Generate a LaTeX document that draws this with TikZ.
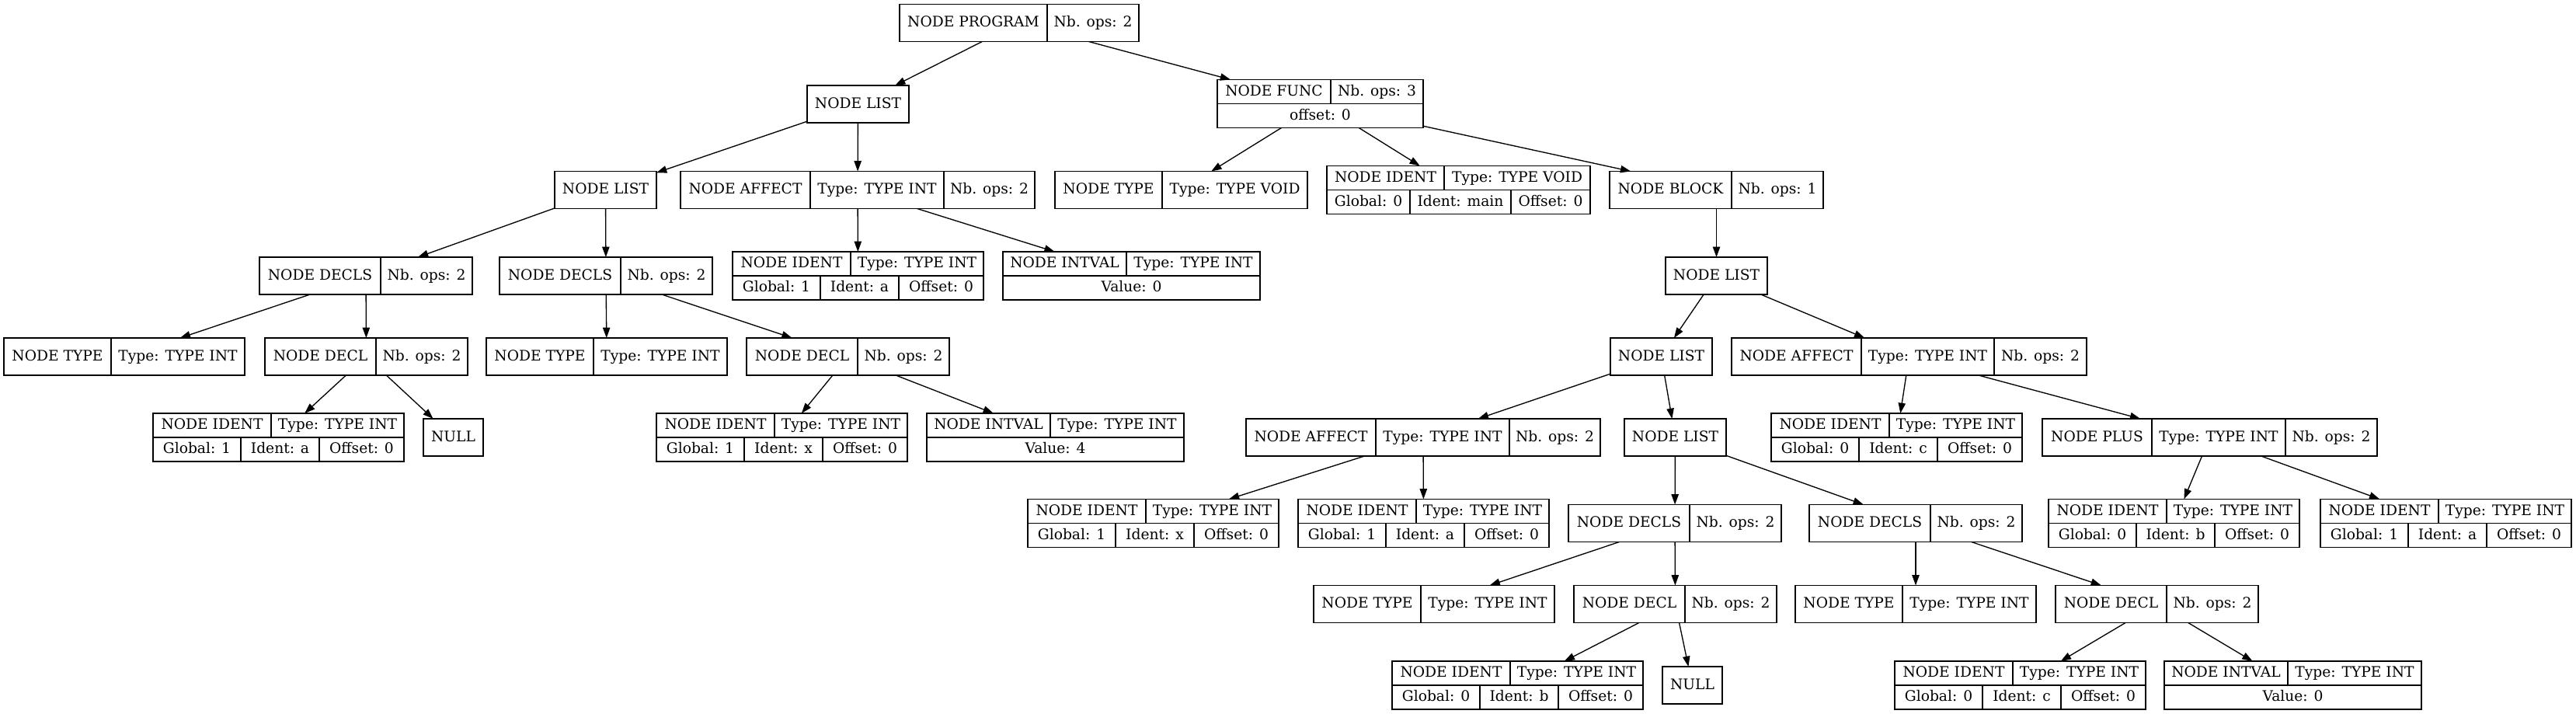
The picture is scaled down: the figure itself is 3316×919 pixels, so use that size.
\documentclass[tikz,border=0pt]{standalone}
\usepackage{fontspec}
\setmainfont{DejaVu Serif}
\usepackage{tikz}
\usetikzlibrary{arrows.meta}

% invisible frame of a record, used as the end of the edges
\newcommand{\recname}[5]{%
    \node[recshape, minimum width={((#3)-(#2))*0.75pt}, minimum height={2*(#5)*0.75pt}] (#1) at ({((#2)+(#3))/2}, #4) {};%
}
% one field of a record
\newcommand{\cellbox}[5]{%
    \draw[recline] (#1, #3) rectangle (#2, #4);%
    \node[rectext] at ({((#1)+(#2))/2}, {((#3)+(#4))/2}) {#5};%
}
\newcommand{\recA}[5]{%
    \recname{#1}{#2}{#3}{#4}{24}%
    \cellbox{#2}{#3}{#4-24}{#4+24}{#5}%
}
\newcommand{\recB}[7]{%
    \recname{#1}{#2}{#4}{#5}{24}%
    \cellbox{#2}{#3}{#5-24}{#5+24}{#6}%
    \cellbox{#3}{#4}{#5-24}{#5+24}{#7}%
}
\newcommand{\recC}[9]{%
    \recname{#1}{#2}{#5}{#6}{24}%
    \cellbox{#2}{#3}{#6-24}{#6+24}{#7}%
    \cellbox{#3}{#4}{#6-24}{#6+24}{#8}%
    \cellbox{#4}{#5}{#6-24}{#6+24}{#9}%
}
\newcommand{\recV}[8]{%
    \recname{#1}{#2}{#4}{#5}{31}%
    \cellbox{#2}{#3}{#5-31}{#5}{#6}%
    \cellbox{#3}{#4}{#5-31}{#5}{#7}%
    \cellbox{#2}{#4}{#5}{#5+31}{#8}%
}
\newcommand{\recI}[5]{%
    \recname{#1}{#2}{#2+323}{#3}{31}%
    \cellbox{#2}{#2+152}{#3-31}{#3}{NODE IDENT}%
    \cellbox{#2+152}{#2+323}{#3-31}{#3}{Type: TYPE INT}%
    \cellbox{#2}{#2+113}{#3}{#3+31}{Global: #4}%
    \cellbox{#2+113}{#2+214}{#3}{#3+31}{Ident: #5}%
    \cellbox{#2+214}{#2+323}{#3}{#3+31}{Offset: 0}%
}

\begin{document}
\begin{tikzpicture}[x=0.75pt, y=-0.75pt, >={Triangle[length=10pt, width=7pt]},
    recline/.style={line width=1pt},
    rectext/.style={inner sep=0pt, font=\fontsize{14}{16}\selectfont, text height=10.5pt, text depth=2.5pt},
    recshape/.style={rectangle, inner sep=0pt, outer sep=0pt},
    edge/.style={->, line width=1pt}]
    %\draw[step=100, gray, very thin] (0, 0) grid (3316, 919);
    \useasboundingbox (0, 0) rectangle (3316, 919);

    \recB{prog}{1158}{1348}{1466}{29.5}{NODE PROGRAM}{Nb. ops: 2}

    \recA{list1}{1039}{1170}{134}{NODE LIST}
    \recV{func}{1567}{1713}{1832}{133.5}{NODE FUNC}{Nb. ops: 3}{offset: 0}

    \recA{list2}{714}{845}{244.5}{NODE LIST}
    \recC{affect1}{876}{1043}{1215}{1332}{244.5}{NODE AFFECT}{Type: TYPE INT}{Nb. ops: 2}
    \recB{typeVoid}{1358}{1496}{1683}{244.5}{NODE TYPE}{Type: TYPE VOID}
    \recname{identMain}{1708}{2047}{244.5}{31}
    \cellbox{1708}{1859}{213.5}{244.5}{NODE IDENT}
    \cellbox{1859}{2047}{213.5}{244.5}{Type: TYPE VOID}
    \cellbox{1708}{1815}{244.5}{275.5}{Global: 0}
    \cellbox{1815}{1945}{244.5}{275.5}{Ident: main}
    \cellbox{1945}{2047}{244.5}{275.5}{Offset: 0}
    \recB{block}{2072}{2229}{2347}{244.5}{NODE BLOCK}{Nb. ops: 1}

    \recB{decls1}{334}{490}{608}{355}{NODE DECLS}{Nb. ops: 2}
    \recB{decls2}{643}{799}{917}{355}{NODE DECLS}{Nb. ops: 2}
    \recI{ident1}{943}{355}{1}{a}
    \recV{intval1}{1291}{1450}{1622}{355}{NODE INTVAL}{Type: TYPE INT}{Value: 0}
    \recA{list3}{2144}{2275}{355}{NODE LIST}

    \recB{type1}{5}{143}{315}{459}{NODE TYPE}{Type: TYPE INT}
    \recB{decl1}{341}{484}{602}{459}{NODE DECL}{Nb. ops: 2}
    \recB{type2}{626}{764}{936}{459}{NODE TYPE}{Type: TYPE INT}
    \recB{decl2}{961}{1104}{1222}{459}{NODE DECL}{Nb. ops: 2}
    \recA{list4}{2073}{2204}{459}{NODE LIST}
    \recC{affect3}{2229}{2396}{2567}{2686}{459}{NODE AFFECT}{Type: TYPE INT}{Nb. ops: 2}

    \recI{ident2}{197}{563}{1}{a}
    \recA{null1}{545}{622}{563}{NULL}
    \recI{ident3}{845}{563}{1}{x}
    \recV{intval2}{1193}{1352}{1524}{563}{NODE INTVAL}{Type: TYPE INT}{Value: 4}
    \recC{affect2}{1604}{1771}{1943}{2060}{563}{NODE AFFECT}{Type: TYPE INT}{Nb. ops: 2}
    \recA{list5}{2091}{2222}{563}{NODE LIST}
    \recI{ident4}{2280}{563}{0}{c}
    \recC{plus}{2629}{2770}{2942}{3060}{563}{NODE PLUS}{Type: TYPE INT}{Nb. ops: 2}

    \recI{ident5}{1323}{673.5}{1}{x}
    \recI{ident6}{1671}{673.5}{1}{a}
    \recB{decls3}{2019}{2175}{2293}{673.5}{NODE DECLS}{Nb. ops: 2}
    \recB{decls4}{2329}{2485}{2603}{673.5}{NODE DECLS}{Nb. ops: 2}
    \recI{ident7}{2637}{673.5}{0}{b}
    \recI{ident8}{2987}{673.5}{1}{a}

    \recB{type3}{1691}{1829}{2001}{777.5}{NODE TYPE}{Type: TYPE INT}
    \recB{decl3}{2026}{2169}{2287}{777.5}{NODE DECL}{Nb. ops: 2}
    \recB{type4}{2311}{2449}{2621}{777.5}{NODE TYPE}{Type: TYPE INT}
    \recB{decl4}{2646}{2789}{2907}{777.5}{NODE DECL}{Nb. ops: 2}

    \recI{ident9}{1792}{882}{0}{b}
    \recA{null2}{2140}{2217}{882}{NULL}
    \recI{ident10}{2439}{882}{0}{c}
    \recV{intval3}{2786}{2945}{3117}{882}{NODE INTVAL}{Type: TYPE INT}{Value: 0}

    \draw[edge] (prog) -- (list1);
    \draw[edge] (prog) -- (func);
    \draw[edge] (list1) -- (list2);
    \draw[edge] (list1) -- (affect1);
    \draw[edge] (list2) -- (decls1);
    \draw[edge] (list2) -- (decls2);
    \draw[edge] (decls1) -- (type1);
    \draw[edge] (decls1) -- (decl1);
    \draw[edge] (decl1) -- (ident2);
    \draw[edge] (decl1) -- (null1);
    \draw[edge] (decls2) -- (type2);
    \draw[edge] (decls2) -- (decl2);
    \draw[edge] (decl2) -- (ident3);
    \draw[edge] (decl2) -- (intval2);
    \draw[edge] (affect1) -- (ident1);
    \draw[edge] (affect1) -- (intval1);
    \draw[edge] (func) -- (typeVoid);
    \draw[edge] (func) -- (identMain);
    \draw[edge] (func) -- (block);
    \draw[edge] (block) -- (list3);
    \draw[edge] (list3) -- (list4);
    \draw[edge] (list3) -- (affect3);
    \draw[edge] (list4) -- (affect2);
    \draw[edge] (list4) -- (list5);
    \draw[edge] (affect2) -- (ident5);
    \draw[edge] (affect2) -- (ident6);
    \draw[edge] (list5) -- (decls3);
    \draw[edge] (list5) -- (decls4);
    \draw[edge] (decls3) -- (type3);
    \draw[edge] (decls3) -- (decl3);
    \draw[edge] (decl3) -- (ident9);
    \draw[edge] (decl3) -- (null2);
    \draw[edge] (decls4) -- (type4);
    \draw[edge] (decls4) -- (decl4);
    \draw[edge] (decl4) -- (ident10);
    \draw[edge] (decl4) -- (intval3);
    \draw[edge] (affect3) -- (ident4);
    \draw[edge] (affect3) -- (plus);
    \draw[edge] (plus) -- (ident7);
    \draw[edge] (plus) -- (ident8);

  \end{tikzpicture}
\end{document}
